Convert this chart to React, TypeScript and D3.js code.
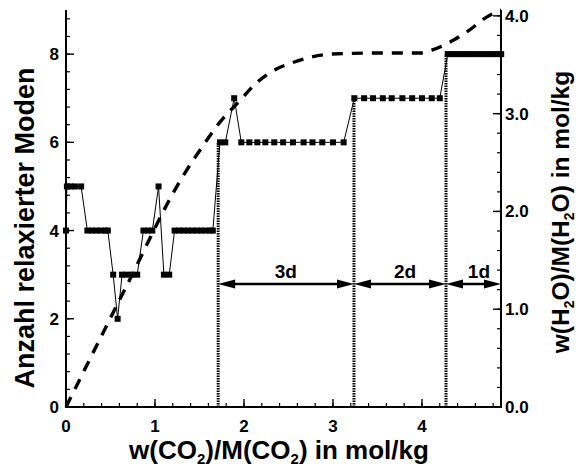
import React from 'react';
import * as d3 from 'd3';

// Number of relaxed modes vs. CO2 loading (left axis)
const modeX = [
  0, 0.01, 0.05, 0.1, 0.17,
  0.24, 0.29, 0.34, 0.39, 0.44, 0.47,
  0.53, 0.58,
  0.63, 0.68, 0.74, 0.8,
  0.87, 0.92, 0.97,
  1.04,
  1.1, 1.16,
  1.22, 1.27, 1.32, 1.37, 1.42, 1.47, 1.52, 1.57, 1.62, 1.65,
  1.73, 1.79,
  1.89,
  1.97, 2.06, 2.15, 2.24, 2.34, 2.44, 2.55, 2.67, 2.77, 2.88, 3.0, 3.12,
  3.24, 3.35, 3.45, 3.56, 3.66, 3.78, 3.89, 4.0, 4.11, 4.2,
  4.29, 4.34, 4.39, 4.44, 4.49, 4.54, 4.59, 4.64, 4.69, 4.74, 4.79, 4.84, 4.89,
];
const modeN = [
  4, 5, 5, 5, 5,
  4, 4, 4, 4, 4, 4,
  3, 2,
  3, 3, 3, 3,
  4, 4, 4,
  5,
  3, 3,
  4, 4, 4, 4, 4, 4, 4, 4, 4, 4,
  6, 6,
  7,
  6, 6, 6, 6, 6, 6, 6, 6, 6, 6, 6, 6,
  7, 7, 7, 7, 7, 7, 7, 7, 7, 7,
  8, 8, 8, 8, 8, 8, 8, 8, 8, 8, 8, 8, 8,
];

// Water loading vs. CO2 loading (right axis)
const waterX = [0, 0.66, 1.3, 1.53, 1.71, 1.95, 2.16, 2.35, 2.54, 2.76, 2.99, 3.5, 3.98, 4.11, 4.35, 4.54, 4.73, 4.89];
const waterY = [0, 1.2, 2.34, 2.66, 2.89, 3.13, 3.33, 3.45, 3.52, 3.58, 3.61, 3.62, 3.62, 3.65, 3.75, 3.86, 3.99, 4.06];

// Region boundaries (dotted verticals) and the mode count they rise to
const boundaryX = [1.71, 3.236, 4.27];
const boundaryN = [6, 7, 8];
const regionLabels = ['3d', '2d', '1d'];
const regionLabelX = [2.47, 3.81, 4.64];

const xTicks = [0, 1, 2, 3, 4];
const yLeftTicks = [0, 2, 4, 6, 8];
const yRightTicks = [0, 1, 2, 3, 4];

const W = 576;
const H = 467;
const FONT = '"Liberation Sans", Arial, Helvetica, sans-serif';

export default function App() {
  const x = d3.scaleLinear().domain([0, 4.888]).range([66, 501]);
  const yL = d3.scaleLinear().domain([0, 9]).range([407, 10]);
  const yR = d3.scaleLinear().domain([0, 4.06]).range([407, 10]);

  const modeLine = d3
    .line<number>()
    .x((_, i) => x(modeX[i]))
    .y((d) => yL(d));
  const waterLine = d3
    .line<number>()
    .x((_, i) => x(waterX[i]))
    .y((d) => yR(d))
    .curve(d3.curveMonotoneX);

  const x0 = x(0);
  const x1 = x.range()[1];
  const yBot = yL(0);
  const yTop = yL(9);

  const xMinor = d3.range(0, 4.81, 0.2);
  const yLMinor = d3.range(0, 9.01, 0.4);
  const yRMinor = d3.range(0, 4.01, 0.2);

  const arrowY = yL(2.79);
  const ends = [...boundaryX, x.domain()[1]];
  const head = (tipX: number, dir: number) => {
    const L = 17;
    const hw = 4.5;
    return `M${tipX},${arrowY} L${tipX - dir * L},${arrowY - hw} L${tipX - dir * L},${arrowY + hw} Z`;
  };

  return (
    <svg
      width={W}
      height={H}
      style={{ position: 'absolute', left: 0, top: 0, background: '#fff' }}
      fontFamily={FONT}
      fontWeight="bold"
    >
      {/* water loading curve */}
      <path
        d={waterLine(waterY) || ''}
        fill="none"
        stroke="#000"
        strokeWidth={3.4}
        strokeDasharray="11,9"
      />

      {/* dotted boundaries */}
      {boundaryX.map((b, i) => (
        <line
          key={`b${i}`}
          x1={x(b)}
          x2={x(b)}
          y1={yBot}
          y2={yL(boundaryN[i])}
          stroke="#000"
          strokeWidth={3}
          strokeDasharray="1.5,1"
        />
      ))}

      {/* mode count series */}
      <path d={modeLine(modeN) || ''} fill="none" stroke="#000" strokeWidth={1} />
      {modeN.map((n, i) => (
        <rect key={`m${i}`} x={x(modeX[i]) - 3} y={yL(n) - 3} width={6} height={6} fill="#000" />
      ))}

      {/* region arrows */}
      {regionLabels.map((lab, i) => {
        const a = x(ends[i]);
        const b = x(ends[i + 1]);
        return (
          <g key={lab}>
            <line x1={a + 10} x2={b - 10} y1={arrowY} y2={arrowY} stroke="#000" strokeWidth={2.4} />
            <path d={head(a, -1)} fill="#000" />
            <path d={head(b, 1)} fill="#000" />
            <text x={x(regionLabelX[i])} y={arrowY - 6} textAnchor="middle" fontSize={19}>
              {lab}
            </text>
          </g>
        );
      })}

      {/* axes lines */}
      <line x1={x0} x2={x0} y1={yTop} y2={yBot + 1} stroke="#000" strokeWidth={2} />
      <line x1={x1} x2={x1} y1={yTop} y2={yBot + 1} stroke="#000" strokeWidth={2} />
      <line x1={x0 - 1} x2={x1 + 1} y1={yBot} y2={yBot} stroke="#000" strokeWidth={2} />

      {/* x ticks */}
      {xMinor.map((t, i) => (
        <line key={`xm${i}`} x1={x(t)} x2={x(t)} y1={yBot} y2={yBot - 4} stroke="#000" strokeWidth={1.2} />
      ))}
      {xTicks.map((t) => (
        <g key={`xt${t}`}>
          <line x1={x(t)} x2={x(t)} y1={yBot} y2={yBot - 8} stroke="#000" strokeWidth={1.4} />
          <text x={x(t)} y={yBot + 25} textAnchor="middle" fontSize={17}>
            {t}
          </text>
        </g>
      ))}

      {/* left ticks */}
      {yLMinor.map((t, i) => (
        <line key={`ylm${i}`} x1={x0} x2={x0 + 4} y1={yL(t)} y2={yL(t)} stroke="#000" strokeWidth={1.2} />
      ))}
      {yLeftTicks.map((t) => (
        <g key={`ylt${t}`}>
          <line x1={x0} x2={x0 + 8} y1={yL(t)} y2={yL(t)} stroke="#000" strokeWidth={1.4} />
          <text x={x0 - 7} y={yL(t) + 6} textAnchor="end" fontSize={17}>
            {t}
          </text>
        </g>
      ))}

      {/* right ticks */}
      {yRMinor.map((t, i) => (
        <line key={`yrm${i}`} x1={x1} x2={x1 - 4} y1={yR(t)} y2={yR(t)} stroke="#000" strokeWidth={1.2} />
      ))}
      {yRightTicks.map((t) => (
        <g key={`yrt${t}`}>
          <line x1={x1} x2={x1 - 8} y1={yR(t)} y2={yR(t)} stroke="#000" strokeWidth={1.4} />
          <text x={x1 + 4} y={yR(t) + 6} textAnchor="start" fontSize={17}>
            {d3.format('.1f')(t)}
          </text>
        </g>
      ))}

      {/* axis titles */}
      <text x={279} y={459} textAnchor="middle" fontSize={26}>
        w(CO<tspan fontSize={15} dy={5}>2</tspan>
        <tspan dy={-5}>)/M(CO</tspan>
        <tspan fontSize={15} dy={5}>2</tspan>
        <tspan dy={-5}>) in mol/kg</tspan>
      </text>
      <text transform="translate(34,228) rotate(-90)" textAnchor="middle" fontSize={27}>
        Anzahl relaxierter Moden
      </text>
      <text transform="translate(569,212) rotate(-90)" textAnchor="middle" fontSize={24.5}>
        w(H<tspan fontSize={14} dy={5}>2</tspan>
        <tspan dy={-5}>O)/M(H</tspan>
        <tspan fontSize={14} dy={5}>2</tspan>
        <tspan dy={-5}>O) in mol/kg</tspan>
      </text>
    </svg>
  );
}
